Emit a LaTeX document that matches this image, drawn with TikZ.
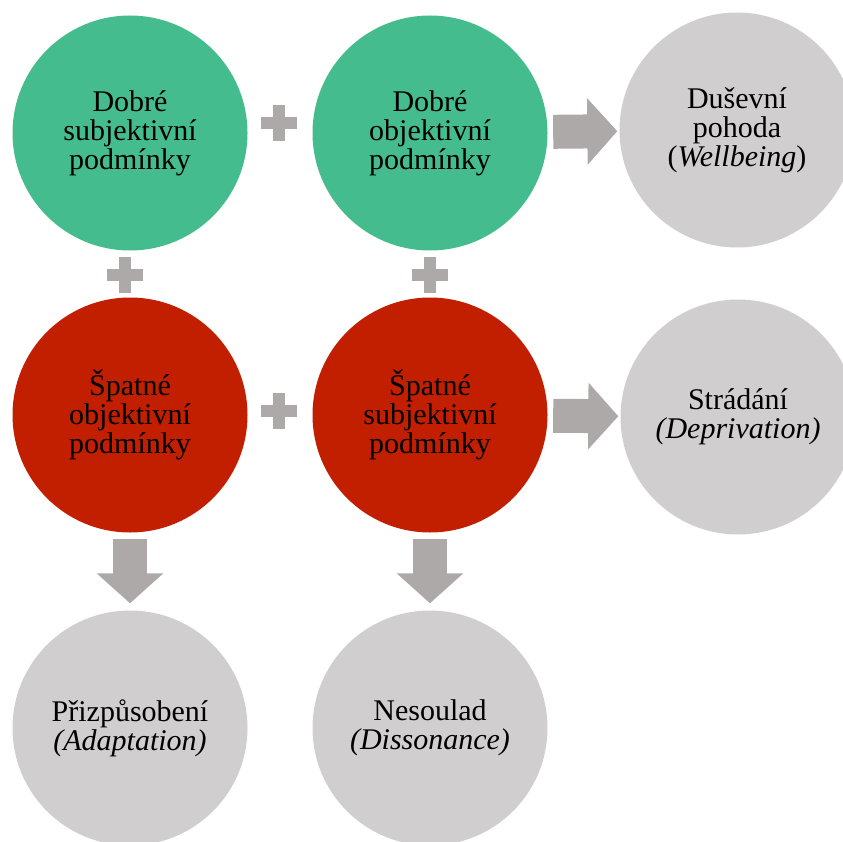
\documentclass[tikz,border=0pt]{standalone}
\usepackage{fontspec}
\setmainfont{Liberation Serif}
\usetikzlibrary{arrows.meta,calc}
\definecolor{goodgreen}{RGB}{69,188,141}
\definecolor{badred}{RGB}{194,30,0}
\definecolor{outgrey}{RGB}{208,206,207}
\definecolor{arrowgrey}{RGB}{173,169,169}
\tikzset{
  bubble/.style={circle, minimum size=235pt, inner sep=0pt, align=center,
    font=\fontsize{30}{29}\selectfont, text=black},
  good/.style={bubble, fill=goodgreen},
  bad/.style={bubble, fill=badred},
  result/.style={bubble, fill=outgrey},
  blockarrow/.style={arrowgrey, line width=34pt,
    -{Triangle[length=30pt 0 0, width=65pt 0 0]}},
  pics/plussign/.style={code={
    \fill[arrowgrey] (-18,-6) rectangle (18,6);
    \fill[arrowgrey] (-6,-18) rectangle (6,18);
  }}
}
\begin{document}
\begin{tikzpicture}[x=1pt, y=-1pt]
\useasboundingbox (0,0) rectangle (843,842);
\clip (0,0) rectangle (843,842);

\node[good]   (gs) at (130,133) {Dobré\\subjektivní\\podmínky};
\node[good]   (go) at (430,133) {Dobré\\objektivní\\podmínky};
\node[result] (wb) at (737,130) {Duševní\\pohoda\\(\textit{Wellbeing})};

\node[bad]    (bo) at (130,415) {Špatné\\objektivní\\podmínky};
\node[bad]    (bs) at (430,415) {Špatné\\subjektivní\\podmínky};
\node[result] (dp) at (738,417) {Strádání\\\textit{(Deprivation)}};

\node[result] (ad) at (130,728) {Přizpůsobení\\\textit{(Adaptation)}};
\node[result] (ds) at (430,728) {Nesoulad\\\textit{(Dissonance)}};

% plus signs
\pic at (279,123) {plussign};
\pic at (125,275) {plussign};
\pic at (430,275) {plussign};
\pic at (279,411) {plussign};

% block arrows
\draw[blockarrow, shorten <=5.5pt, shorten >=2pt] (go) -- (wb);
\draw[blockarrow, shorten <=5.5pt, shorten >=2pt] (bs) -- (dp);
\draw[blockarrow, shorten <=6.5pt, shorten >=7pt] (bo) -- (ad);
\draw[blockarrow, shorten <=6.5pt, shorten >=7pt] (bs) -- (ds);
\end{tikzpicture}
\end{document}
